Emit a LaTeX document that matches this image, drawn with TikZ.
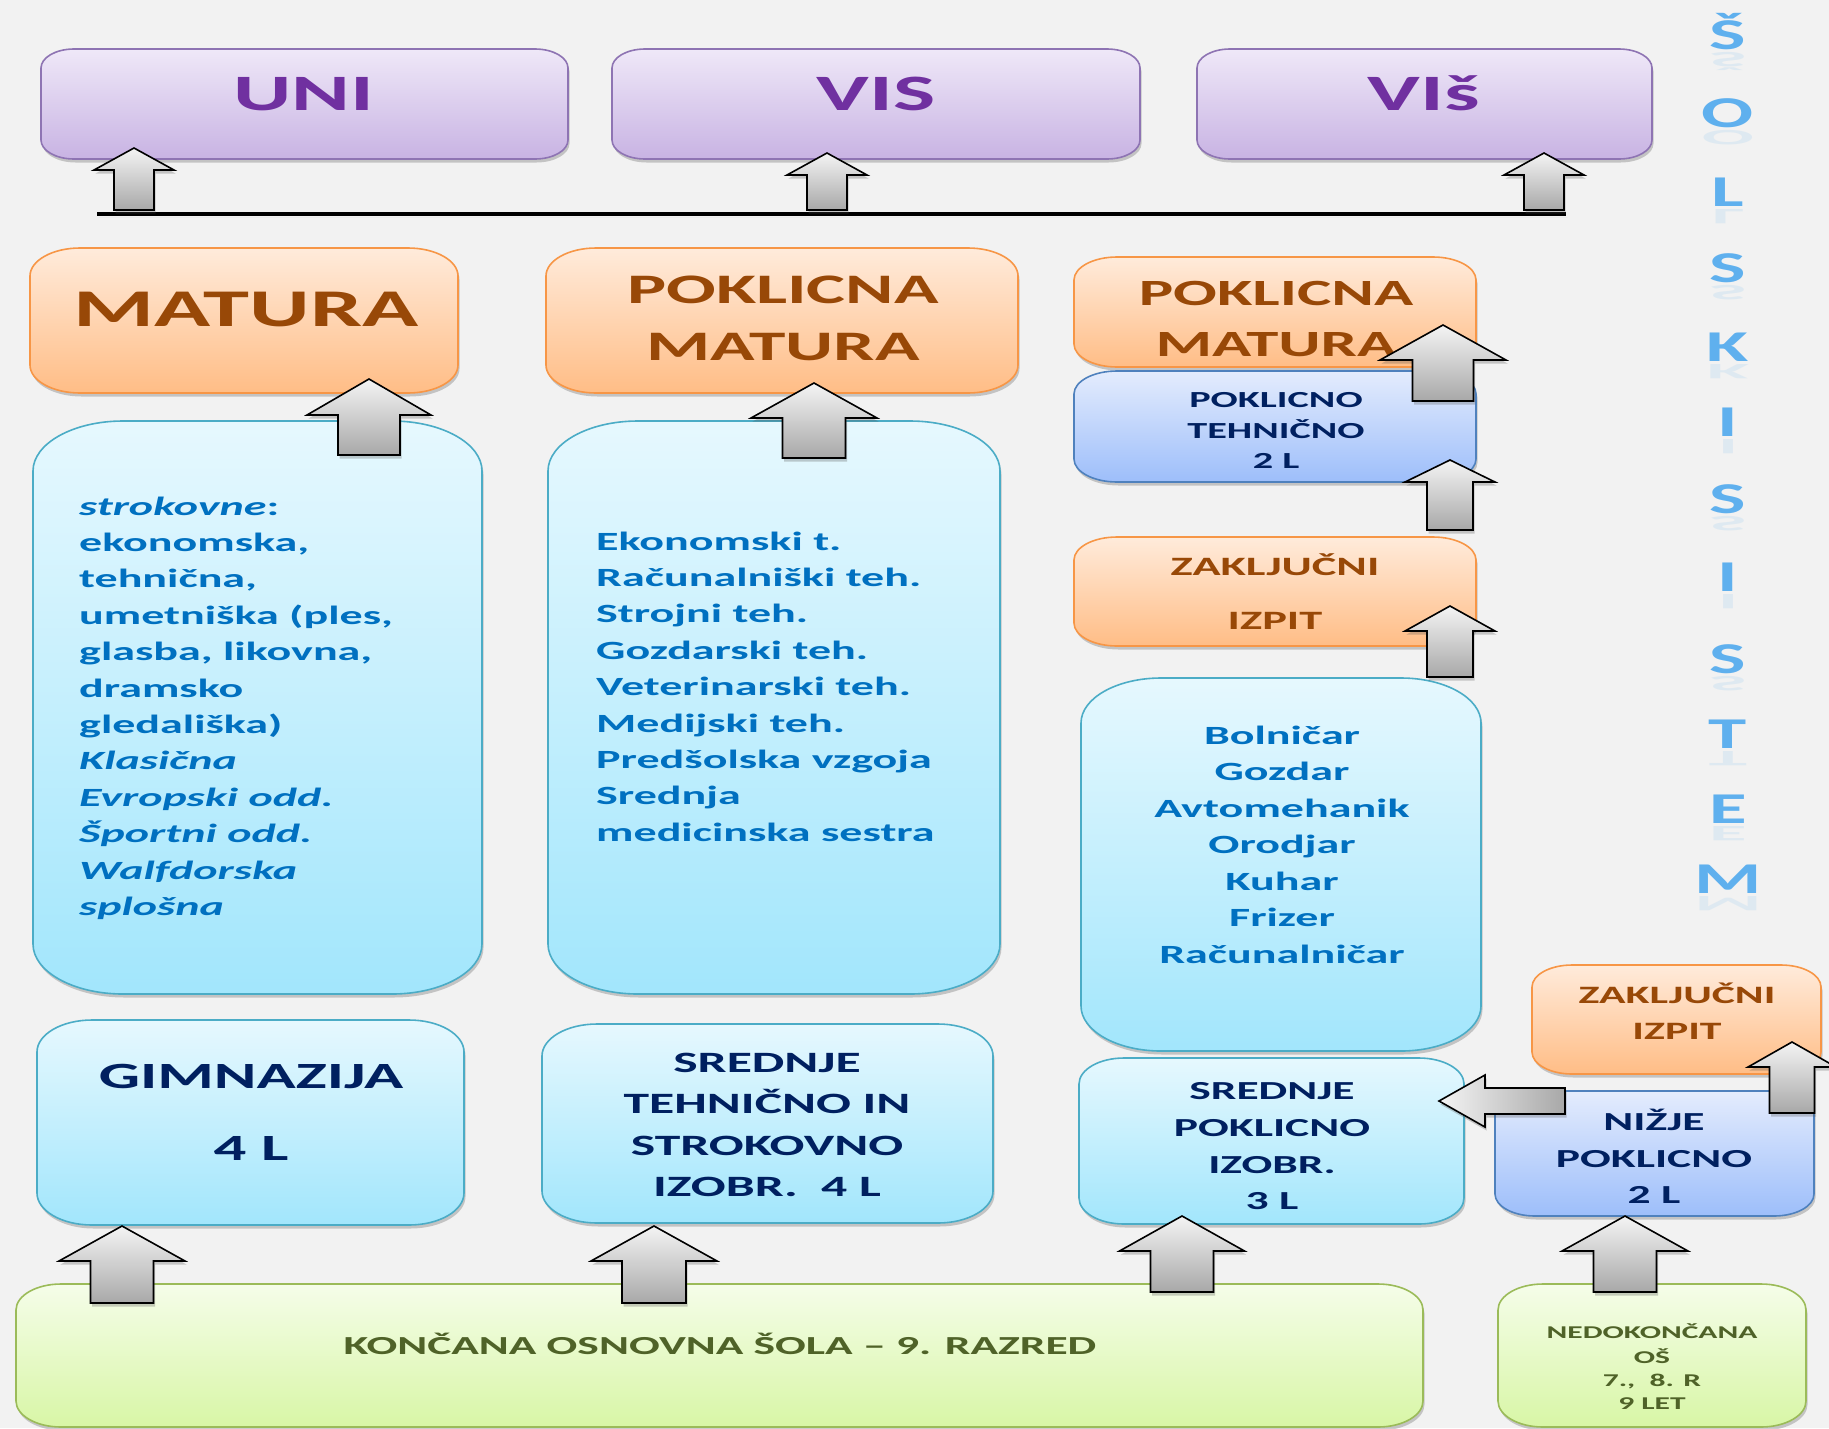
\documentclass[tikz,border=0pt]{standalone}
\usepackage{fontspec}
\usetikzlibrary{shadows}
\newfontfamily\cf{Carlito}[FakeStretch=1.75]
\definecolor{bgc}{HTML}{F2F2F2}
\definecolor{ptop}{HTML}{EFE8F8}\definecolor{pbot}{HTML}{C8B3E3}\definecolor{pbd}{HTML}{8E74B3}
\definecolor{otop}{HTML}{FFEBDB}\definecolor{obot}{HTML}{FFBD86}\definecolor{obd}{HTML}{F79646}
\definecolor{btop}{HTML}{E6F8FE}\definecolor{bbot}{HTML}{A2E6FC}\definecolor{bbd}{HTML}{4BACC6}
\definecolor{vtop}{HTML}{E4ECFD}\definecolor{vbot}{HTML}{9DBEFA}\definecolor{vbd}{HTML}{4F81BD}
\definecolor{gtop}{HTML}{F5FDE9}\definecolor{gbot}{HTML}{D8F6A6}\definecolor{gbd}{HTML}{9BBB59}
\definecolor{purpt}{HTML}{7030A0}\definecolor{brownt}{HTML}{984807}\definecolor{navyt}{HTML}{002060}
\definecolor{bluet}{HTML}{0070C0}\definecolor{greent}{HTML}{4F6228}\definecolor{lettc}{HTML}{5FB0EE}
\definecolor{atop}{HTML}{F4F4F4}\definecolor{abot}{HTML}{A8A8A8}
% rounded box with elliptic corners: #1 name, #2 style, #3 x1, #4 y1, #5 x2, #6 y2, #7 rx, #8 ry
\newcommand\rrect[8]{%
  \path[#2] ({#3+#7},#4) -- ({#5-#7},#4)
    .. controls ({#5-0.448*#7},#4) and (#5,{#4+0.448*#8}) .. (#5,{#4+#8})
    -- (#5,{#6-#8})
    .. controls (#5,{#6-0.448*#8}) and ({#5-0.448*#7},#6) .. ({#5-#7},#6)
    -- ({#3+#7},#6)
    .. controls ({#3+0.448*#7},#6) and (#3,{#6-0.448*#8}) .. (#3,{#6-#8})
    -- (#3,{#4+#8})
    .. controls (#3,{#4+0.448*#8}) and ({#3+0.448*#7},#4) .. ({#3+#7},#4) -- cycle;
  \node[inner sep=0pt, minimum width={#5-#3}, minimum height={#6-#4}] (#1) at ({(#3+#5)/2},{(#4+#6)/2}) {};}
% up block arrow: #1 tip x, #2 tip y, #3 head half width, #4 shaft half width, #5 head base y, #6 bottom y
\newcommand\uparr[6]{%
  \path[blockarrow, top color=atop, bottom color=abot] (#1,#2) -- ({#1+#3},#5) -- ({#1+#4},#5) -- ({#1+#4},#6)
    -- ({#1-#4},#6) -- ({#1-#4},#5) -- ({#1-#3},#5) -- cycle;}
% left block arrow: #1 tip x, #2 tip y, #3 head half height, #4 shaft half height, #5 head base x, #6 end x
\newcommand\leftarr[6]{%
  \path[blockarrow, left color=atop, right color=abot] (#1,#2) -- (#5,{#2-#3}) -- (#5,{#2-#4}) -- (#6,{#2-#4})
    -- (#6,{#2+#4}) -- (#5,{#2+#4}) -- (#5,{#2+#3}) -- cycle;}
\begin{document}
\begin{tikzpicture}[x=1pt,y=-1pt,
  shad/.style={drop shadow={shadow xshift=1.5pt, shadow yshift=-3.5pt, opacity=.28, fill=black!70}},
  box/.style={draw, line width=1.6pt, shad},
  pbox/.style={box, draw=pbd, top color=ptop, bottom color=pbot},
  obox/.style={box, draw=obd, top color=otop, bottom color=obot},
  bbox/.style={box, draw=bbd, top color=btop, bottom color=bbot},
  vbox/.style={box, draw=vbd, top color=vtop, bottom color=vbot},
  gbox/.style={box, draw=gbd, top color=gtop, bottom color=gbot},
  blockarrow/.style={draw=black, line width=1.6pt, line join=miter, shad},
  txt/.style={inner sep=0pt, anchor=base, align=center},
  fs/.style={font=\cf\bfseries\fontsize{#1}{#1}\selectfont},
  lefttxt/.style={inner sep=0pt, anchor=base west, text=bluet, fs=26.3},
  letter/.style={inner sep=0pt, anchor=base, text=lettc, fs=44}]
\useasboundingbox (0,0) rectangle (1829,1428);
\fill[bgc] (0,0) rectangle (1829,1428);

% ---- top row
\rrect{uni}{pbox}{41}{49}{568}{159}{33}{19}
\rrect{vis}{pbox}{612}{49}{1140}{159}{33}{19}
\rrect{visj}{pbox}{1197}{49}{1652}{159}{33}{19}
\node[txt, text=purpt, fs=51] (tuni) at (304,110) {UNI};
\node[txt, text=purpt, fs=51] (tvis) at (876,110) {VIS};
\node[txt, text=purpt, fs=51] (tvisj) at (1424,110) {VIš};

% line
\draw[line width=3.8pt, shad] (97,214) coordinate (la) -- (1566,214) coordinate (lb);

% ---- matura row
\rrect{mat}{obox}{30}{248}{458}{393}{50}{28}
\rrect{pm2}{obox}{546}{248}{1018}{393}{50}{28}
\rrect{pm3}{obox}{1074}{257}{1476}{367}{43}{23}
\rrect{pt}{vbox}{1074}{371}{1476}{482}{43}{23}
\node[txt, text=brownt, fs=53] (tmat) at (246,326) {MATURA};
\node[txt, text=brownt, fs=42] (tpm2a) at (783,303) {POKLICNA};
\node[txt, text=brownt, fs=42] (tpm2b) at (783,360) {MATURA};
\node[txt, text=brownt, fs=37] (tpm3a) at (1276,305) {POKLICNA};
\node[txt, text=brownt, fs=37] (tpm3b) at (1276,356) {MATURA};
\node[txt, text=navyt, fs=23] (tpta) at (1276,407) {POKLICNO};
\node[txt, text=navyt, fs=23] (tptb) at (1276,438) {TEHNIČNO};
\node[txt, text=navyt, fs=23] (tptc) at (1276,468) {2 L};

% ---- big lists
\rrect{bl1}{bbox}{33}{421}{482}{994}{90}{50}
\rrect{bl2}{bbox}{548}{421}{1000}{994}{90}{50}
\rrect{zi3}{obox}{1074}{537}{1476}{646}{43}{23}
\rrect{occ}{bbox}{1081}{678}{1481}{1051}{80}{45}
\foreach \t [count=\i from 0] in {{\textit{strokovne}:},{ekonomska,},{tehnična,},{umetniška (ples,},{glasba, likovna,},{dramsko},{gledališka)},{\textit{Klasična}},{\textit{Evropski odd.}},{\textit{Športni odd.}},{\textit{Walfdorska}},{\textit{splošna}}}
  \node[lefttxt] (la\i) at (79,{515+\i*36.4}) {\t};
\foreach \t [count=\i from 0] in {{Ekonomski t.},{Računalniški teh.},{Strojni teh.},{Gozdarski teh.},{Veterinarski teh.},{Medijski teh.},{Predšolska vzgoja},{Srednja},{medicinska sestra}}
  \node[lefttxt] (lb\i) at (596,{550+\i*36.4}) {\t};
\node[txt, text=brownt, fs=26.5] (tzi3a) at (1275,575) {ZAKLJUČNI};
\node[txt, text=brownt, fs=26.5] (tzi3b) at (1275,629) {IZPIT};
\foreach \t [count=\i from 0] in {Bolničar,Gozdar,Avtomehanik,Orodjar,Kuhar,Frizer,Računalničar}
  \node[txt, text=bluet, fs=26.3] (lc\i) at (1282,{744+\i*36.5}) {\t};

% ---- school row
\rrect{gim}{bbox}{37}{1020}{464}{1225}{55}{32}
\rrect{stsi}{bbox}{542}{1024}{993}{1223}{55}{32}
\rrect{spi}{bbox}{1079}{1058}{1464}{1224}{45}{26}
\rrect{zi4}{obox}{1532}{965}{1821}{1074}{40}{22}
\rrect{np}{vbox}{1495}{1091}{1814}{1216}{40}{22}
\node[txt, text=navyt, fs=37] (tgima) at (251,1088) {GIMNAZIJA};
\node[txt, text=navyt, fs=37] (tgimb) at (251,1160) {4 L};
\node[txt, text=navyt, fs=29.5] (tst1) at (767,1072) {SREDNJE};
\node[txt, text=navyt, fs=29.5] (tst2) at (767,1113) {TEHNIČNO IN};
\node[txt, text=navyt, fs=29.5] (tst3) at (767,1155) {STROKOVNO};
\node[txt, text=navyt, fs=29.5] (tst4) at (767,1196) {IZOBR.\ \ 4 L};
\node[txt, text=navyt, fs=26] (tsp1) at (1272,1099) {SREDNJE};
\node[txt, text=navyt, fs=26] (tsp2) at (1272,1136) {POKLICNO};
\node[txt, text=navyt, fs=26] (tsp3) at (1272,1173) {IZOBR.};
\node[txt, text=navyt, fs=26] (tsp4) at (1272,1209) {3 L};
\node[txt, text=brownt, fs=25] (tzi4a) at (1677,1003) {ZAKLJUČNI};
\node[txt, text=brownt, fs=25] (tzi4b) at (1677,1039) {IZPIT};
\node[txt, text=navyt, fs=26] (tnp1) at (1654,1130) {NIŽJE};
\node[txt, text=navyt, fs=26] (tnp2) at (1654,1167) {POKLICNO};
\node[txt, text=navyt, fs=26] (tnp3) at (1654,1203) {2 L};

% ---- bottom row
\rrect{kos}{gbox}{16}{1284}{1423}{1427}{45}{26}
\rrect{nos}{gbox}{1498}{1284}{1806}{1427}{45}{26}
\node[txt, text=greent, fs=26] (tkos) at (720,1354) {KONČANA OSNOVNA ŠOLA – 9. RAZRED};
\node[txt, text=greent, fs=18] (tnos1) at (1652,1338) {NEDOKONČANA};
\node[txt, text=greent, fs=18] (tnos2) at (1652,1363) {OŠ};
\node[txt, text=greent, fs=18] (tnos3) at (1652,1386) {7.,\ \ 8. R};
\node[txt, text=greent, fs=18] (tnos4) at (1652,1409) {9 LET};

% ---- vertical title
\foreach \l/\b [count=\i] in {Š/49,O/127,L/206,S/282,K/361,I/436,S/513,I/591,S/673,T/748,E/823,M/893}{
  \node[letter] (v\i) at (1728,\b) {\l};
  \node[letter, yscale=-0.5, transform shape, opacity=.13] (vr\i) at (1728,{\b+3}) {\l};
}

% ---- block arrows
\uparr{134}{148}{40}{20}{170}{210}
\uparr{827}{153}{40}{20}{175}{210}
\uparr{1544}{153}{40}{20}{175}{210}
\uparr{369}{379}{62}{31}{415}{455}
\uparr{814}{383}{63}{31.5}{418}{458}
\uparr{1443}{325}{63}{30.5}{360}{401}
\uparr{1450}{460}{45}{23}{482}{530}
\uparr{1450}{606}{45}{23}{631}{677}
\uparr{122}{1226}{63}{31.5}{1261}{1303}
\uparr{654}{1226}{63}{32}{1261}{1303}
\uparr{1182}{1216}{62.5}{31.5}{1251}{1292}
\uparr{1625}{1216}{63}{31.5}{1251}{1292}
\uparr{1792}{1042}{44}{22.5}{1067}{1113}
\leftarr{1439}{1101}{26}{13}{1485}{1565}
\end{tikzpicture}
\end{document}
